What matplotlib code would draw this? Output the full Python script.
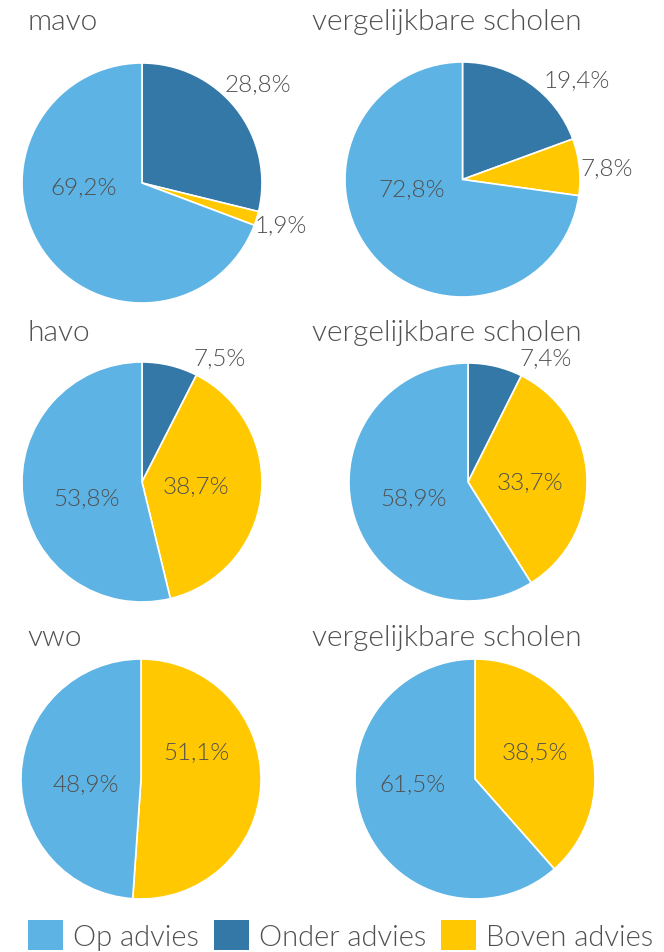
import matplotlib
matplotlib.use("Agg")
import matplotlib.pyplot as plt
from matplotlib.patches import Patch

# ---- data ----
categories = ["Onder advies", "Boven advies", "Op advies"]
titles = ["mavo", "vergelijkbare scholen",
          "havo", "vergelijkbare scholen",
          "vwo", "vergelijkbare scholen"]
onder = [28.8, 19.4, 7.5, 7.4, 0.0, 0.0]
boven = [1.9, 7.8, 38.7, 33.7, 51.1, 38.5]
op = [69.2, 72.8, 53.8, 58.9, 48.9, 61.5]
legend_order = ["Op advies", "Onder advies", "Boven advies"]

# ---- style ----
colors = {"Onder advies": "#3478A8", "Boven advies": "#FFC800", "Op advies": "#5DB3E4"}
text_color = "#505050"
plt.rcParams["font.family"] = ["Lato", "DejaVu Sans"]
WEIGHT = 300

W, H = 664, 953
fig = plt.figure(figsize=(W / 100, H / 100), dpi=100)
fig.patch.set_facecolor("white")

# layout: pie centers & radii in pixels (from top-left)
centers = [(142, 184), (462.5, 180.5), (142, 483), (468, 483), (141, 780), (475, 780)]
radii = [120, 117.5, 120, 119, 120, 120]
title_pos = [(27, 22), (312, 22), (27, 333), (312, 333), (27, 638), (312, 638)]
# label offsets in radius units for (onder, boven, op)
label_off = [
    [(0.97, 0.83), (1.16, -0.35), (-0.49, -0.03)],
    [(0.97, 0.85), (1.23, 0.10), (-0.43, -0.08)],
    [(0.65, 1.04), (0.45, -0.03), (-0.46, -0.13)],
    [(0.65, 1.05), (0.52, 0.0), (-0.46, -0.13)],
    [(0.0, 0.0), (0.46, 0.23), (-0.46, -0.04)],
    [(0.0, 0.0), (0.50, 0.23), (-0.52, -0.04)],
]

for i in range(6):
    cx, cy = centers[i]
    r = radii[i]
    ax = fig.add_axes([(cx - r) / W, 1 - (cy + r) / H, 2 * r / W, 2 * r / H])
    vals = [onder[i], boven[i], op[i]]
    ax.pie(vals, colors=[colors[c] for c in categories], startangle=90,
           counterclock=False, radius=1,
           wedgeprops=dict(edgecolor="white", linewidth=1.2))
    ax.set_xlim(-1, 1)
    ax.set_ylim(-1, 1)
    ax.set_aspect("equal")
    ax.axis("off")
    for v, (dx, dy) in zip(vals, label_off[i]):
        if v <= 0:
            continue
        ax.text(dx, dy, f"{v:.1f}%".replace(".", ","), ha="center", va="center",
                fontsize=17.5, color=text_color, fontweight=WEIGHT, clip_on=False)
    tx, ty = title_pos[i]
    fig.text(tx / W, 1 - ty / H, titles[i], ha="left", va="center",
             fontsize=21.5, color=text_color, fontweight=WEIGHT)

handles = [Patch(facecolor=colors[c], edgecolor="none") for c in legend_order]
fig.legend(handles, legend_order, loc="center left",
           bbox_to_anchor=(28 / W, 1 - 936 / H), ncol=3, frameon=False,
           handlelength=1.2, handleheight=1.2,
           handletextpad=0.35, columnspacing=0.5, borderaxespad=0,
           borderpad=0, labelcolor=text_color,
           prop=dict(family=["Lato", "DejaVu Sans"], weight=WEIGHT, size=21))

fig.savefig("out.png", dpi=100, facecolor="white")
